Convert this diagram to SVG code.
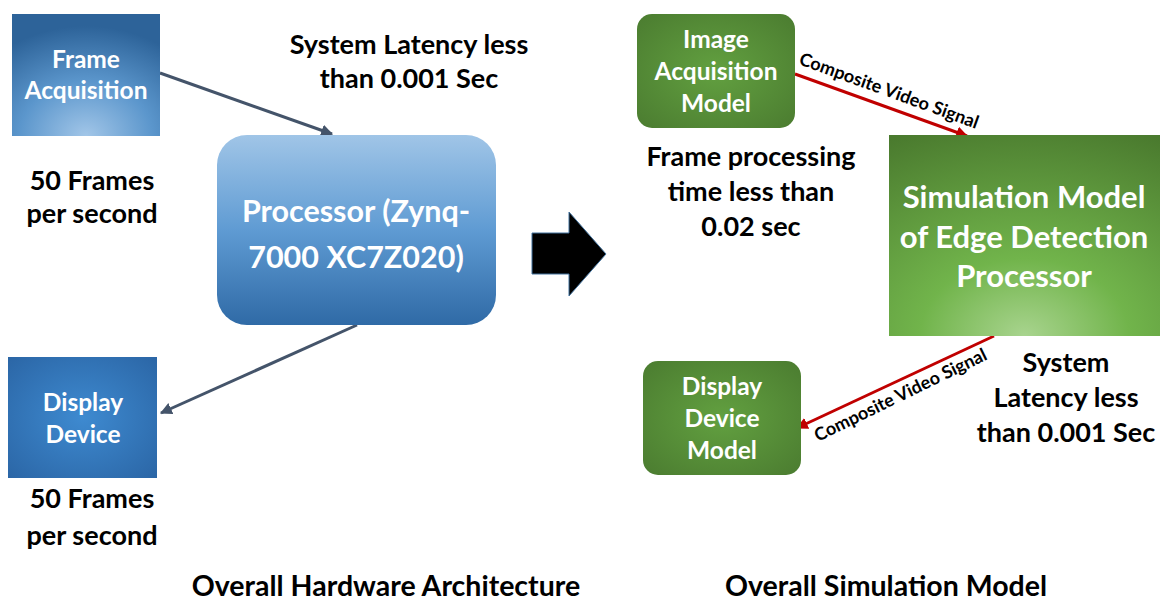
<svg xmlns="http://www.w3.org/2000/svg" width="1166" height="602" viewBox="0 0 1166 602">
<defs>
<radialGradient id="gBlueA" cx="0.5" cy="1" r="0.9">
<stop offset="0" stop-color="#a2c6e8"/>
<stop offset="0.5" stop-color="#5b96cc"/>
<stop offset="1" stop-color="#2d6399"/>
</radialGradient>
<radialGradient id="gBlueB" cx="0.5" cy="0.5" r="0.7">
<stop offset="0" stop-color="#3e8ad0"/>
<stop offset="1" stop-color="#2b66a6"/>
</radialGradient>
<linearGradient id="gProc" x1="0" y1="0" x2="0" y2="1">
<stop offset="0" stop-color="#a0c5e7"/>
<stop offset="0.5" stop-color="#5f9bd3"/>
<stop offset="1" stop-color="#2f6aa6"/>
</linearGradient>
<radialGradient id="gGreenA" cx="0.5" cy="0.5" r="0.7">
<stop offset="0" stop-color="#62a040"/>
<stop offset="1" stop-color="#4b7c30"/>
</radialGradient>
<radialGradient id="gGreenB" cx="0.5" cy="1" r="1.1">
<stop offset="0" stop-color="#a8d48e"/>
<stop offset="0.35" stop-color="#71b44b"/>
<stop offset="1" stop-color="#4a7a2e"/>
</radialGradient>
<marker id="mGray" viewBox="0 0 10 10" refX="9" refY="5" markerWidth="4" markerHeight="4" orient="auto" markerUnits="strokeWidth">
<path d="M0,0 L10,5 L0,10 z" fill="#44546a"/>
</marker>
<marker id="mRed" viewBox="0 0 10 10" refX="9" refY="5" markerWidth="4" markerHeight="4" orient="auto" markerUnits="strokeWidth">
<path d="M0,0 L10,5 L0,10 z" fill="#c00000"/>
</marker>
</defs>
<style>
text { font-family: Lato, "Liberation Sans", sans-serif; font-weight: bold; text-anchor: middle; }
.w { fill: #ffffff; }
.k { fill: #000000; }
.lbl { font-size: 27px; }
.title { font-size: 28.5px; }
.box { font-size: 24.5px; }
.sig { font-size: 18px; fill: #000000; text-anchor: start; }
.gray { stroke: #44546a; stroke-width: 3; fill: none; marker-end: url(#mGray); }
.red { stroke: #c00000; stroke-width: 3; fill: none; marker-end: url(#mRed); }
</style>

<g id="connectors">
<line class="gray" x1="160" y1="73" x2="332" y2="134"/>
<line class="gray" x1="357" y1="325" x2="161" y2="413"/>
<line class="red" x1="795" y1="74" x2="967" y2="136"/>
<line class="red" x1="994" y1="336" x2="797" y2="428"/>
<text class="sig" transform="translate(798,64) rotate(20)">Composite Video Signal</text>
<text class="sig" transform="translate(818,442) rotate(-26)">Composite Video Signal</text>
</g>

<g id="frame-acquisition">
<rect x="12" y="14" width="148" height="122" fill="url(#gBlueA)"/>
<text class="w box" x="86" y="68">Frame</text>
<text class="w box" x="86" y="99">Acquisition</text>
</g>

<g id="display-device">
<rect x="8" y="357" width="149" height="121" fill="url(#gBlueB)"/>
<text class="w box" x="83" y="411">Display</text>
<text class="w box" x="83" y="443">Device</text>
</g>

<g id="processor">
<rect x="217" y="135" width="279" height="190" rx="30" fill="url(#gProc)"/>
<text class="w" x="356" y="222" font-size="30.5">Processor (Zynq-</text>
<text class="w" x="356" y="268" font-size="30.5">7000 XC7Z020)</text>
</g>

<g id="hw-labels">
<text class="k lbl" x="409" y="54">System Latency less</text>
<text class="k lbl" x="409" y="88">than 0.001 Sec</text>
<text class="k lbl" x="92" y="190">50 Frames</text>
<text class="k lbl" x="92" y="223">per second</text>
<text class="k lbl" x="92" y="508">50 Frames</text>
<text class="k lbl" x="92" y="545">per second</text>
<text class="k title" x="386" y="596">Overall Hardware Architecture</text>
</g>

<g id="big-arrow">
<path d="M532,233 L569,233 L569,212 L606,254 L569,296 L569,274 L532,274 Z" fill="#000000" stroke="#41719c" stroke-width="1"/>
</g>

<g id="image-acquisition-model">
<rect x="637" y="14" width="158" height="114" rx="15" fill="url(#gGreenA)"/>
<text class="w box" x="716" y="48">Image</text>
<text class="w box" x="716" y="80">Acquisition</text>
<text class="w box" x="716" y="112">Model</text>
</g>

<g id="simulation-model">
<rect x="889" y="135" width="271" height="201" fill="url(#gGreenB)"/>
<text class="w" x="1024" y="208" font-size="31">Simulation Model</text>
<text class="w" x="1024" y="248" font-size="31">of Edge Detection</text>
<text class="w" x="1024" y="287" font-size="31">Processor</text>
</g>

<g id="display-device-model">
<rect x="643" y="361" width="158" height="114" rx="15" fill="url(#gGreenA)"/>
<text class="w box" x="722" y="395">Display</text>
<text class="w box" x="722" y="427">Device</text>
<text class="w box" x="722" y="459">Model</text>
</g>

<g id="sim-labels">
<text class="k lbl" x="751" y="166">Frame processing</text>
<text class="k lbl" x="751" y="201">time less than</text>
<text class="k lbl" x="751" y="236">0.02 sec</text>
<text class="k lbl" x="1066" y="372">System</text>
<text class="k lbl" x="1066" y="407">Latency less</text>
<text class="k lbl" x="1066" y="442">than 0.001 Sec</text>
<text class="k title" x="886" y="596">Overall Simulation Model</text>
</g>
</svg>
